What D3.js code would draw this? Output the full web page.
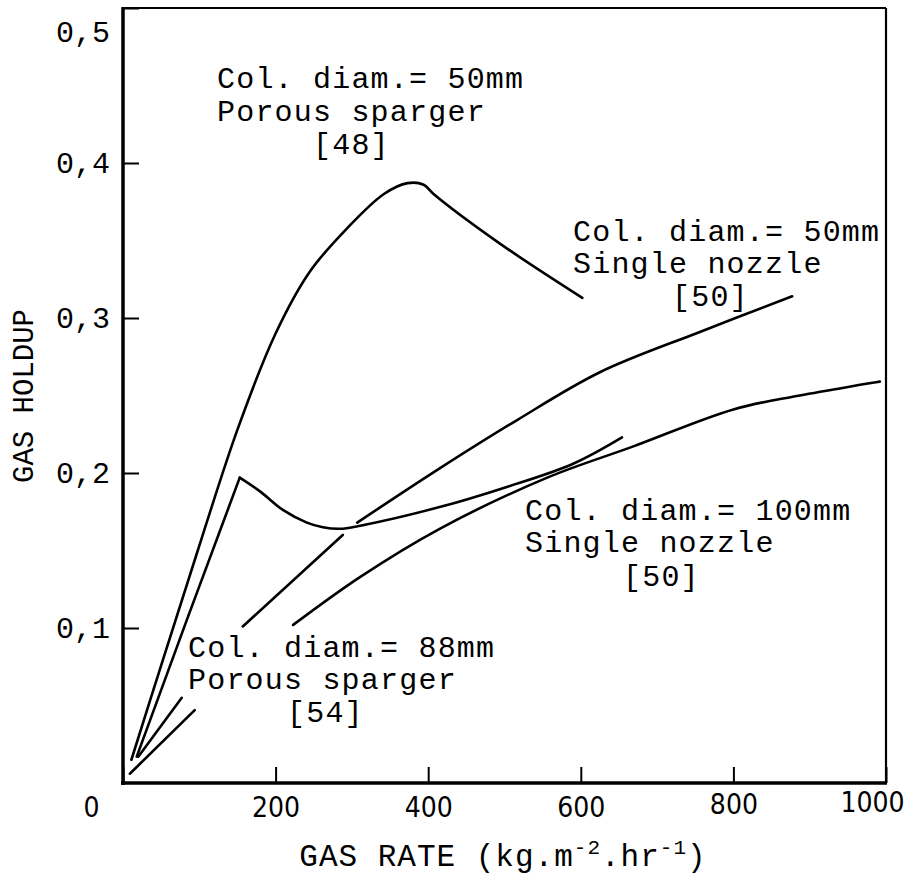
<!DOCTYPE html>
<html>
<head>
<meta charset="utf-8">
<script src="https://cdn.jsdelivr.net/npm/d3@7"></script>
<style>
  html, body { margin: 0; padding: 0; background: #ffffff; }
  svg { display: block; }
</style>
</head>
<body>
<svg id="chart" width="921" height="878"></svg>
<script>
// ---------- data ----------
const xTicks = [0, 200, 400, 600, 800, 1000];
const yTicks = [0.1, 0.2, 0.3, 0.4, 0.5];

// gas rate (kg.m-2.hr-1), gas holdup ; null = break in the drawn line
const porous50 = [[11,0.015],[52,0.079],[98,0.150],[150,0.228],[200,0.290],[245,0.330],[294,0.358],[342,0.380],[373,0.387],[394,0.386],[407,0.380],[494,0.348],[602,0.313]];
const porous88Rise = [[18,0.017],[85,0.107],[153,0.197]];
const porous88Fall = [[153,0.197],[180,0.188],[210,0.176],[241,0.168],[262,0.165],[284,0.164],[311,0.166],[415,0.178],[503,0.191],[590,0.206],[654,0.223]];
const single50 = [[20,0.017],[77,0.055],null,[157,0.101],[288,0.160],null,[307,0.168],[412,0.202],[516,0.234],[625,0.265],[756,0.291],[877,0.314]];
const single100 = [[9,0.006],[94,0.047],null,[223,0.102],[311,0.133],[415,0.164],[556,0.197],[668,0.217],[800,0.241],[887,0.250],[992,0.259]];

const notePorous50 = ["Col. diam.= 50mm", "Porous sparger", "[48]"];
const noteSingle50 = ["Col. diam.= 50mm", "Single nozzle", "[50]"];
const noteSingle100 = ["Col. diam.= 100mm", "Single nozzle", "[50]"];
const notePorous88 = ["Col. diam.= 88mm", "Porous sparger", "[54]"];

const xTitleParts = ["GAS RATE (kg.m", "-2", ".hr", "-1", ")"];
const yTitle = "GAS HOLDUP";

// ---------- layout ----------
const W = 921, H = 878;
const L = 123, R = 886, T = 8, B = 783;
const mono = "'Liberation Mono','Courier New',monospace";
const narrow = "'Liberation Sans Narrow','DejaVu Sans Condensed','Liberation Sans',sans-serif";

const svg = d3.select("#chart");
svg.append("rect").attr("width", W).attr("height", H).attr("fill", "#fff");

const x = d3.scaleLinear().domain([0, 1000]).range([L, R]);
const y = d3.scaleLinear().domain([0, 0.5]).range([B, T]);

const loc = d3.formatLocale({decimal: ",", thousands: ".", grouping: [3], currency: ["", ""]});
const fmtY = loc.format(".1f");

// x axis
const gx = svg.append("g").attr("transform", `translate(0,${B})`)
  .call(d3.axisBottom(x).tickValues(xTicks).tickSizeInner(-16).tickSizeOuter(0).tickPadding(14).tickFormat(d3.format("d")));
gx.select(".domain").remove();
gx.selectAll(".tick line").attr("stroke", "#000").attr("stroke-width", 2);
gx.selectAll(".tick text")
  .attr("fill", "#000")
  .style("font-family", narrow)
  .style("font-size", "28px")
  .attr("dx", d => d === 0 ? -32 : (d === 1000 ? -14 : 0))
  .attr("dy", d => d === 1000 ? "0.55em" : (d === 800 ? "0.62em" : "0.71em"));

// y axis
const gy = svg.append("g").attr("transform", `translate(${L},0)`)
  .call(d3.axisLeft(y).tickValues(yTicks).tickSizeInner(-16).tickSizeOuter(0).tickPadding(13).tickFormat(fmtY));
gy.select(".domain").remove();
gy.selectAll(".tick line").attr("stroke", "#000").attr("stroke-width", 2);
gy.selectAll(".tick text")
  .attr("fill", "#000")
  .style("font-family", mono)
  .style("font-size", "30px")
  .attr("dy", d => d === 0.5 ? "1.1em" : "0.32em");

// frame
const frame = svg.append("g").attr("stroke", "#000").attr("fill", "none");
frame.append("line").attr("x1", L).attr("x2", R).attr("y1", T).attr("y2", T).attr("stroke-width", 2.2);
frame.append("line").attr("x1", R).attr("x2", R).attr("y1", T).attr("y2", B).attr("stroke-width", 2.2);
frame.append("line").attr("x1", L).attr("x2", L).attr("y1", T - 1).attr("y2", B + 2).attr("stroke-width", 3.5);
frame.append("line").attr("x1", L - 2).attr("x2", R + 1).attr("y1", B).attr("y2", B).attr("stroke-width", 3.5);

// curves
const smooth = d3.line().defined(d => d).x(d => x(d[0])).y(d => y(d[1])).curve(d3.curveCatmullRom.alpha(0.5));
const straight = d3.line().x(d => x(d[0])).y(d => y(d[1])).curve(d3.curveLinear);
const curves = svg.append("g").attr("fill", "none").attr("stroke", "#000")
  .attr("stroke-width", 2.6).attr("stroke-linecap", "round").attr("stroke-linejoin", "round");
curves.append("path").attr("d", smooth(porous50));
curves.append("path").attr("d", straight(porous88Rise));
curves.append("path").attr("d", smooth(porous88Fall));
curves.append("path").attr("d", smooth(single50));
curves.append("path").attr("d", smooth(single100));

// annotations
function note(lines, lineYs, xs) {
  const g = svg.append("g").style("font-family", mono).style("font-size", "30px")
    .style("letter-spacing", "1.2px").attr("fill", "#000");
  lines.forEach((t, i) => {
    g.append("text").attr("x", xs[i]).attr("y", lineYs[i]).attr("xml:space", "preserve").text(t);
  });
}
note(notePorous50, [88, 121, 154], [217, 217, 313]);
note(noteSingle50, [241, 273, 306], [573, 573, 672]);
note(noteSingle100, [520, 552, 586], [525, 525, 623]);
note(notePorous88, [657, 689, 722], [188, 188, 287]);

// axis titles
const xt = svg.append("text").attr("x", 503).attr("y", 866).attr("text-anchor", "middle")
  .style("font-family", mono).style("font-size", "31px").style("letter-spacing", "1px").attr("fill", "#000");
xTitleParts.forEach((t, i) => {
  const sup = i % 2 === 1;
  xt.append("tspan").attr("dy", i === 0 ? 0 : (sup ? -12 : 12))
    .style("font-size", sup ? "21px" : null).text(t);
});

svg.append("text").attr("transform", "translate(33,396) rotate(-90)").attr("text-anchor", "middle")
  .style("font-family", mono).style("font-size", "29px").attr("fill", "#000").text(yTitle);
</script>
</body>
</html>
